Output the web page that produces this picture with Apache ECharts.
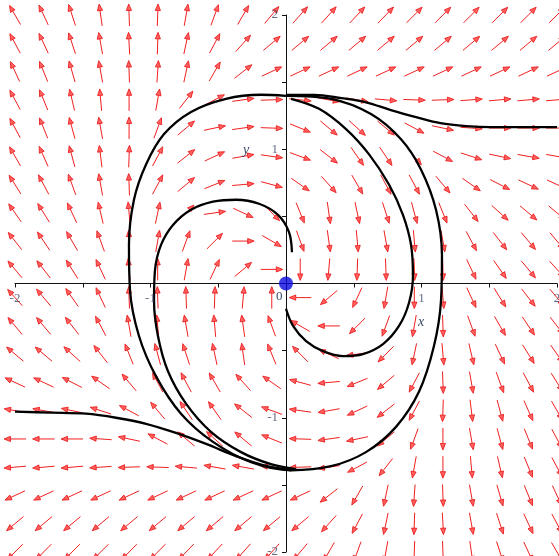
<!DOCTYPE html>
<html><head><meta charset="utf-8">
<script src="https://cdn.jsdelivr.net/npm/echarts@6/dist/echarts.min.js"></script>
<style>html,body{margin:0;padding:0;background:#fff}#c{width:559px;height:556px}</style>
</head><body><div id="c"></div>
<script>
// Direction-field grid (data coordinates)
const gridX = [-2,-1.789,-1.579,-1.368,-1.158,-0.947,-0.737,-0.526,-0.316,-0.105,0.105,0.316,0.526,0.737,0.947,1.158,1.368,1.579,1.789,2];
const gridY = [2,1.789,1.579,1.368,1.158,0.947,0.737,0.526,0.316,0.105,-0.105,-0.316,-0.526,-0.737,-0.947,-1.158,-1.368,-1.579,-1.789,-2];
// Arrow directions in degrees (counter-clockwise from +x), one row per gridY value
const fieldAngles = [
 [120,115,108,98,92,88,80,70,60,50,48,48,47,46,45,45,45,45,45,45],
 [118,115,108,100,93,88,78,62,48,40,40,40,40,40,40,40,40,40,40,40],
 [115,112,106,100,92,86,78,60,38,25,25,25,25,25,25,25,25,25,25,25],
 [118,112,103,95,90,80,52,28,8,2,-6,-10,-10,-5,-2,2,4,5,5,5],
 [118,112,105,100,90,70,40,12,8,-2,-22,-40,-42,-40,-28,-12,-4,0,0,0],
 [120,114,105,97,88,62,38,25,10,-8,-20,-38,-55,-56,-50,-28,-18,-12,-10,-10],
 [122,118,110,100,92,62,40,22,5,-15,-35,-48,-60,-62,-62,-50,-35,-27,-25,-25],
 [125,122,115,103,95,78,45,8,-25,-45,-68,-82,-78,-72,-75,-68,-52,-42,-40,-40],
 [128,124,120,110,92,80,70,45,0,-30,-70,-82,-85,-80,-85,-80,-62,-52,-50,-50],
 [130,128,122,115,95,90,80,65,40,0,-90,-95,-92,-88,-88,-88,-65,-55,-50,-48],
 [132,130,125,115,92,92,92,88,85,90,180,-140,-115,-100,-90,-85,-65,-58,-52,-50],
 [130,130,128,118,100,95,100,95,98,110,150,180,-135,-110,-100,-88,-70,-60,-56,-52],
 [140,140,138,128,112,105,108,102,98,112,135,155,-172,-135,-102,-85,-77,-65,-58,-55],
 [155,155,153,145,130,118,118,120,132,145,165,-175,-158,-140,-118,-88,-80,-70,-62,-58],
 [170,170,168,162,152,130,124,125,142,160,172,-170,-155,-142,-118,-92,-83,-75,-66,-60],
 [180,180,180,176,168,152,140,138,140,158,178,-172,-168,-140,-110,-90,-80,-75,-68,-62],
 [-175,-175,-175,-176,-178,178,175,170,170,174,-178,-172,-152,-128,-100,-90,-85,-77,-68,-62],
 [-155,-155,-155,-155,-155,-155,-155,-155,-155,-155,-155,-142,-120,-102,-94,-88,-80,-74,-68,-65],
 [-140,-140,-140,-140,-140,-140,-140,-140,-140,-140,-140,-132,-118,-102,-92,-87,-80,-72,-65,-62],
 [-135,-135,-135,-135,-135,-135,-134,-133,-132,-132,-130,-120,-110,-100,-92,-88,-82,-72,-65,-60]
];
// Solution curves (x, y)
const cycleCurve = [[0,1.398],[0.332,1.376],[0.627,1.263],[0.849,1.075],[0.996,0.85],[1.107,0.549],[1.151,0.211],[1.144,-0.128],[1.092,-0.466],[0.982,-0.805],[0.812,-1.068],[0.59,-1.256],[0.332,-1.361],[0.037,-1.391],[-0.258,-1.331],[-0.539,-1.18],[-0.775,-0.97],[-0.959,-0.692],[-1.085,-0.391],[-1.151,-0.053],[-1.159,0.286],[-1.122,0.624],[-1.033,0.887],[-0.9,1.113],[-0.701,1.278],[-0.443,1.376],[-0.185,1.406],[0,1.398]];
const spiralA = [[0.044,0.233],[0.022,0.383],[-0.059,0.511],[-0.199,0.594],[-0.369,0.624],[-0.539,0.609],[-0.701,0.549],[-0.834,0.436],[-0.923,0.286],[-0.967,0.098],[-0.974,-0.128],[-0.945,-0.391],[-0.871,-0.654],[-0.738,-0.895],[-0.554,-1.105],[-0.332,-1.256],[-0.111,-1.346],[0.074,-1.383]];
const spiralB = [[0,-0.188],[0.052,-0.316],[0.148,-0.429],[0.273,-0.504],[0.421,-0.541],[0.568,-0.526],[0.716,-0.451],[0.834,-0.316],[0.908,-0.143],[0.937,0.06],[0.923,0.286],[0.863,0.511],[0.76,0.737],[0.613,0.962],[0.443,1.15],[0.244,1.301],[0.037,1.376]];
const escapeRight = [[2,1.165],[1.73,1.165],[1.51,1.165],[1.33,1.173],[1.14,1.195],[0.96,1.24],[0.78,1.29],[0.59,1.35],[0.41,1.38],[0.21,1.405],[0,1.405]];
const escapeLeft = [[-2,-0.955],[-1.734,-0.962],[-1.476,-0.97],[-1.255,-1.0],[-1.033,-1.045],[-0.812,-1.113],[-0.59,-1.195],[-0.369,-1.286],[-0.17,-1.353],[0.037,-1.391]];
const equilibrium = [[0,0]];
// Tick labels drawn beside the axes through the origin
const xTickValues = [-2,-1,1,2];
const xTickLabels = ['-2','-1','1','2'];
const yTickValues = [2,1,-1,-2];
const yTickLabels = ['2','1','-1','-2'];

const arrowData = [];
gridY.forEach((y, r) => gridX.forEach((x, c) => arrowData.push([x, y, fieldAngles[r][c]])));

function renderArrow(params, api) {
  const c = api.coord([api.value(0), api.value(1)]);
  const a = api.value(2) * Math.PI / 180;
  const L = 22, h = 6.5, w = 2.6;
  const ux = Math.cos(a), uy = -Math.sin(a);
  const x1 = c[0] - ux * L / 2, y1 = c[1] - uy * L / 2;
  const x2 = c[0] + ux * L / 2, y2 = c[1] + uy * L / 2;
  const bx = x2 - ux * h, by = y2 - uy * h;
  const px = -uy, py = ux;
  return {type: 'group', children: [
    {type: 'line', shape: {x1: x1, y1: y1, x2: bx, y2: by}, style: {stroke: '#f02020', lineWidth: 1}},
    {type: 'polygon', shape: {points: [[x2, y2], [bx + px * w, by + py * w], [bx - px * w, by - py * w]]},
     style: {fill: '#ff6060', stroke: '#e81010', lineWidth: 0.8}}
  ]};
}

const curveStyle = {color: '#000', width: 2.3};
function curve(d) {
  return {type: 'line', data: d, smooth: 0.35, showSymbol: false, symbol: 'none',
          lineStyle: curveStyle, z: 5, silent: true, clip: true};
}
const labelColor = '#3c4a68';
const labelFont = {color: labelColor, fontFamily: 'Liberation Serif', fontSize: 13};

const chart = echarts.init(document.getElementById('c'), null, {renderer: 'canvas'});
chart.setOption({
  animation: false,
  backgroundColor: '#fff',
  grid: {left: 15, right: 2, top: 15, bottom: 4, containLabel: false, outerBoundsMode: 'none'},
  xAxis: {type: 'value', min: -2, max: 2, interval: 0.5,
    axisLine: {onZero: true, lineStyle: {color: '#111', width: 1}},
    axisTick: {show: true, length: 4, lineStyle: {color: '#111'}},
    splitLine: {show: false}, axisLabel: {show: false}},
  yAxis: {type: 'value', min: -2, max: 2, interval: 0.5,
    axisLine: {onZero: true, lineStyle: {color: '#111', width: 1}},
    axisTick: {show: true, length: 4, lineStyle: {color: '#111'}},
    splitLine: {show: false}, axisLabel: {show: false}},
  graphic: [
    {type: 'text', left: 276, top: 290, z: 20, style: {text: '0', fill: labelColor, font: '13px "Liberation Serif"'}},
    {type: 'text', left: 418, top: 315, z: 20, style: {text: 'x', fill: labelColor, font: 'italic 14px "Liberation Serif"'}},
    {type: 'text', left: 243, top: 143, z: 20, style: {text: 'y', fill: labelColor, font: 'italic 14px "Liberation Serif"'}}
  ],
  series: [
    {type: 'custom', data: arrowData, renderItem: renderArrow, clip: false, z: 1, silent: true},
    curve(cycleCurve), curve(spiralA), curve(spiralB), curve(escapeRight), curve(escapeLeft),
    {type: 'scatter', data: equilibrium, symbolSize: 14, itemStyle: {color: '#0a0ae0'}, z: 10, silent: true},
    {type: 'scatter', data: xTickValues.map((v, i) => [v, 0, xTickLabels[i]]), symbolSize: 0, silent: true, z: 11,
     label: Object.assign({show: true, position: 'bottom', distance: 9, formatter: p => p.data[2]}, labelFont)},
    {type: 'scatter', data: yTickValues.map((v, i) => [0, v, yTickLabels[i]]), symbolSize: 0, silent: true, z: 11,
     label: Object.assign({show: true, position: 'left', distance: 8, formatter: p => p.data[2]}, labelFont)}
  ]
});
</script></body></html>
